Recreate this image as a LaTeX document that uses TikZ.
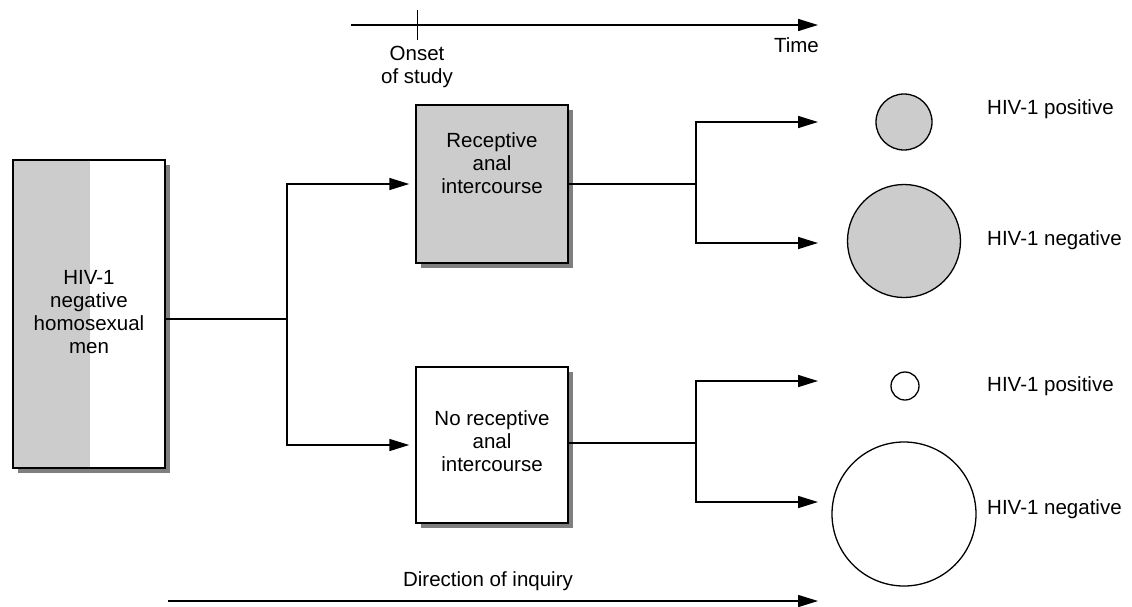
\documentclass[tikz,border=0pt]{standalone}
\usepackage{fontspec}
\setmainfont{Liberation Sans}
\usetikzlibrary{arrows.meta,shadows}
\definecolor{boxgray}{HTML}{CCCCCC}
\definecolor{shadowgray}{HTML}{7F7F7F}
\tikzset{
  lbl/.style={font=\fontsize{20.5}{23}\selectfont, align=center, inner sep=0pt},
  boxshadow/.style={drop shadow={shadow xshift=5pt, shadow yshift=-5pt, fill=shadowgray, opacity=1}},
  studybox/.style={draw, line width=1.5pt, minimum width=152pt, inner sep=0pt, boxshadow},
  conn/.style={line width=1.6pt},
  arr/.style={line width=1.6pt, -{Triangle[length=20pt,width=12pt]}},
  outc/.style={circle, draw, line width=1.3pt, inner sep=0pt},
}
\begin{document}
\begin{tikzpicture}[x=1pt,y=-1pt]
\useasboundingbox (0,0) rectangle (1132,606);
% time axis
\coordinate (t0) at (351,25);
\coordinate (t1) at (818,25);
\coordinate (tk0) at (417,10);
\coordinate (tk1) at (417,40);
\draw[arr] (t0) -- (t1);
\draw[line width=1pt] (tk0) -- (tk1);
\node[lbl] (onset) at (417,67) {Onset\\of study};
\node[lbl, anchor=east] (time) at (819,45) {Time};
% left box
\node[studybox, fill=white, minimum height=308pt,
  path picture={\fill[boxgray] (path picture bounding box.south west) rectangle ([xshift=77pt]path picture bounding box.north west);}]
  (L) at (89,314) {};
\node[lbl] (Lt) at (89,312) {HIV-1\\negative\\homosexual\\men};
% upper box
\node[studybox, fill=boxgray, minimum height=158pt] (U) at (492,184) {};
\node[lbl] (Ut) at (492,163) {Receptive\\anal\\intercourse};
% lower box
\node[studybox, fill=white, minimum height=156pt] (D) at (492,445) {};
\node[lbl] (Dt) at (492,441) {No receptive\\anal\\intercourse};
% connectors left
\coordinate (j1) at (287,319);
\draw[conn] (L.east |- j1) -- (j1);
\draw[arr, shorten >=6pt] (j1) |- (U.west);
\draw[arr, shorten >=6pt] (j1) |- (D.west);
% connectors right
\coordinate (j2) at (696,184);
\coordinate (j3) at (696,443);
\coordinate (e1) at (818,122);
\coordinate (e2) at (818,243);
\coordinate (e3) at (818,381);
\coordinate (e4) at (818,502);
\draw[conn] (U.east |- j2) -- (j2);
\draw[arr] (j2) |- (e1);
\draw[arr] (j2) |- (e2);
\draw[conn] (D.east |- j3) -- (j3);
\draw[arr] (j3) |- (e3);
\draw[arr] (j3) |- (e4);
% outcome circles
\node[outc, fill=boxgray, minimum size=56pt] (c1) at (904,122) {};
\node[outc, fill=boxgray, minimum size=113pt] (c2) at (904,241) {};
\node[outc, fill=white, minimum size=28pt] (c3) at (905,386) {};
\node[outc, fill=white, minimum size=144pt] (c4) at (904,514) {};
\node[lbl, anchor=west] (p1) at (987,109) {HIV-1 positive};
\node[lbl, anchor=west] (n1) at (987,240) {HIV-1 negative};
\node[lbl, anchor=west] (p2) at (987,386) {HIV-1 positive};
\node[lbl, anchor=west] (n2) at (987,509) {HIV-1 negative};
% direction of inquiry
\coordinate (d0) at (168,601);
\coordinate (d1) at (818,601);
\draw[arr] (d0) -- (d1);
\node[lbl] (dir) at (488,581) {Direction of inquiry};
\end{tikzpicture}
\end{document}
